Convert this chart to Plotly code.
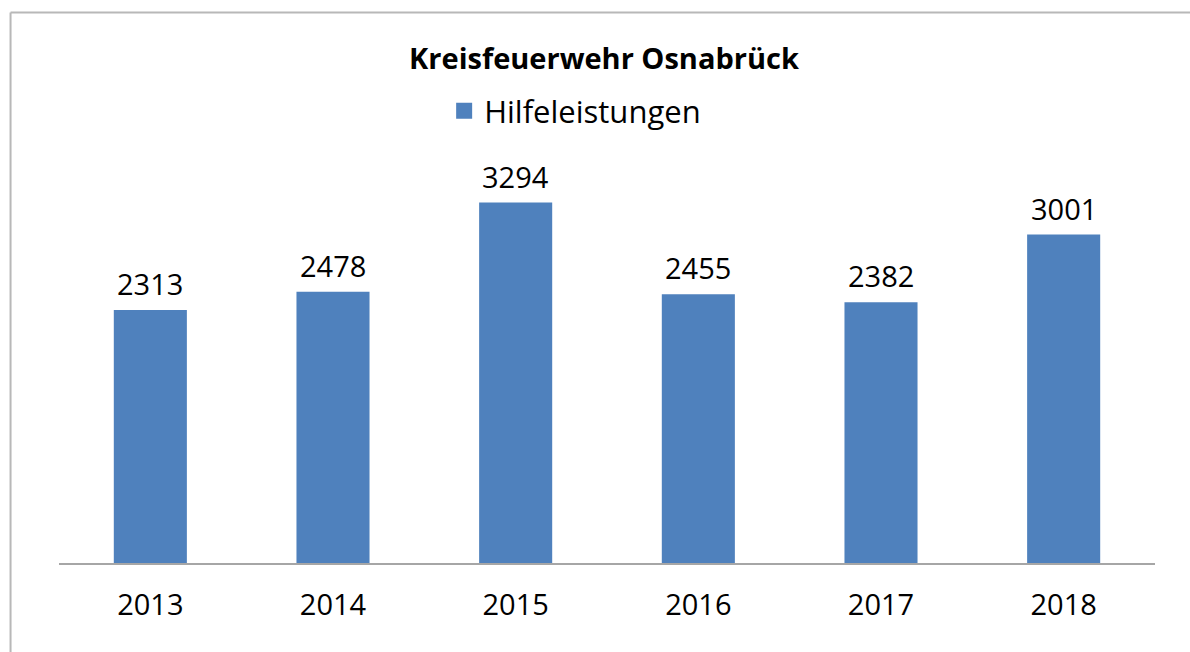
import plotly.graph_objects as go

years = ["2013", "2014", "2015", "2016", "2017", "2018"]
hilfeleistungen = [2313, 2478, 3294, 2455, 2382, 3001]

title_text = "Kreisfeuerwehr Osnabrück"
series_name = "Hilfeleistungen"
bar_color = "#4F81BD"
font_family = "Open Sans, Liberation Sans, sans-serif"

W, H = 1190, 652
L, R, T, B = 58.5, 34.5, 180, 89
pw, ph = W - L - R, H - T - B

def px2paper_x(px):
    return (px - L) / pw

def px2paper_y(py):
    return 1 - (py - T) / ph

xpos = list(range(len(years)))

fig = go.Figure()
fig.add_trace(go.Bar(
    x=xpos, y=hilfeleistungen, width=0.4,
    marker=dict(color=bar_color, line=dict(width=0)),
    showlegend=False, name=series_name, hoverinfo="skip",
))
fig.add_trace(go.Scatter(
    x=[xpos[0]], y=[None], mode="markers", name=series_name,
    marker=dict(symbol="square", size=18, color=bar_color),
    showlegend=True, hoverinfo="skip",
))

annotations = []
for xi, v in zip(xpos, hilfeleistungen):
    annotations.append(dict(
        x=xi, y=v, xref="x", yref="y", text=str(v), showarrow=False,
        yanchor="bottom", yshift=5,
        font=dict(family=font_family, size=29, color="#000000"),
    ))

shapes = [
    dict(type="line", xref="paper", yref="paper",
         x0=px2paper_x(10), x1=px2paper_x(W + 10), y0=px2paper_y(12.5), y1=px2paper_y(12.5),
         line=dict(color="#b8b8b8", width=2)),
    dict(type="line", xref="paper", yref="paper",
         x0=px2paper_x(10), x1=px2paper_x(10), y0=px2paper_y(12.5), y1=px2paper_y(H + 10),
         line=dict(color="#b8b8b8", width=2)),
]

fig.update_layout(
    width=W, height=H,
    margin=dict(l=L, r=R, t=T, b=B, autoexpand=False),
    paper_bgcolor="white", plot_bgcolor="white",
    font=dict(family=font_family, color="#000000"),
    title=dict(text="<b>" + title_text + "</b>", x=px2paper_x(604), xref="paper", xanchor="center",
               y=1 - 59 / H, yanchor="middle", yref="container",
               font=dict(family=font_family, size=29, color="#000000")),
    legend=dict(orientation="h", x=px2paper_x(444), xanchor="left",
                y=px2paper_y(84), yanchor="top",
                font=dict(family=font_family, size=31, color="#000000"),
                bgcolor="rgba(0,0,0,0)"),
    xaxis=dict(type="linear", range=[-0.5, len(years) - 0.5],
               tickmode="array", tickvals=xpos, ticktext=years,
               showgrid=False, zeroline=False, showline=True,
               linecolor="#a6a6a6", linewidth=1.5,
               ticks="", ticklabelstandoff=15,
               tickfont=dict(family=font_family, size=29, color="#000000")),
    yaxis=dict(range=[0, 3500], showgrid=False, zeroline=False, showticklabels=False,
               showline=False, ticks=""),
    annotations=annotations,
    shapes=shapes,
    hovermode=False,
)

fig.write_html("out.html", config={"displayModeBar": False},
               post_script="document.body.style.margin='0px';document.body.style.overflow='hidden';")
